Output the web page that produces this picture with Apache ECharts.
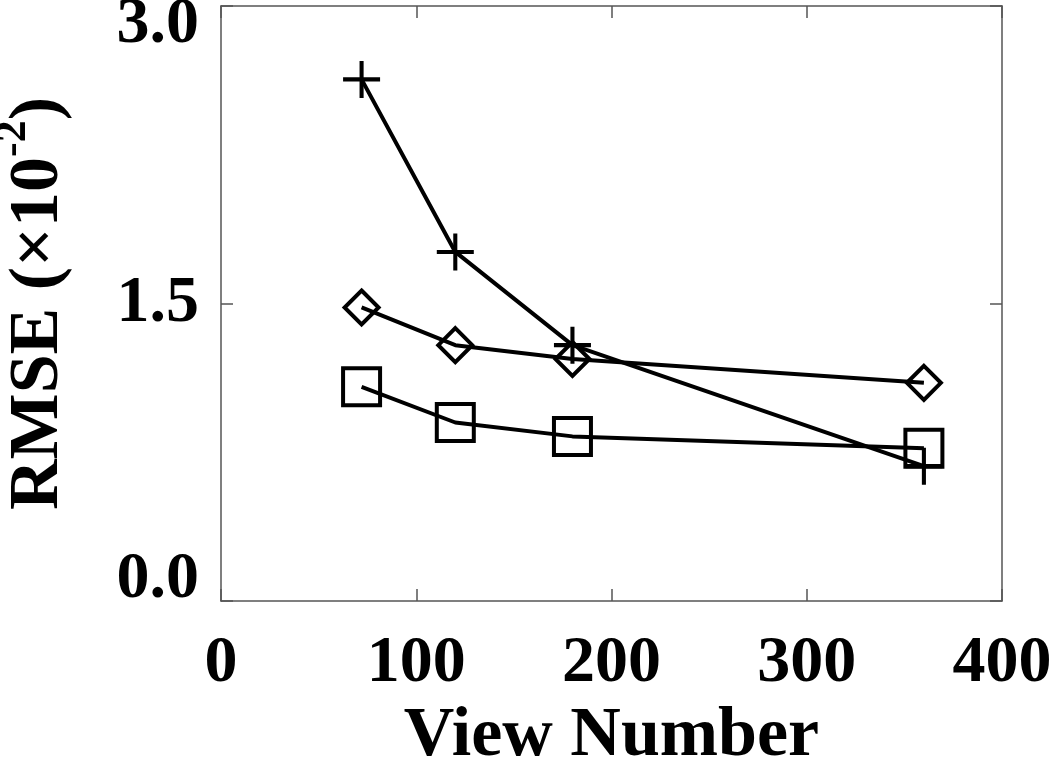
<!DOCTYPE html>
<html>
<head>
<meta charset="utf-8">
<script src="https://cdn.jsdelivr.net/npm/echarts@6/dist/echarts.min.js"></script>
<style>
  html, body { margin: 0; padding: 0; background: #fff; }
  #chart { width: 1050px; height: 765px; }
</style>
</head>
<body>
<div id="chart"></div>
<script>
// view numbers (x) and RMSE values in units of 1e-2
var views = [72, 120, 180, 360];
var plusVals = [2.63, 1.76, 1.29, 0.68];
var diamondVals = [1.48, 1.29, 1.22, 1.10];
var squareVals = [1.08, 0.90, 0.83, 0.77];

var FONT = '"Liberation Serif", "Times New Roman", serif';
var PLUS = 'path://M44.5,0 H55.5 V44.5 H100 V55.5 H55.5 V100 H44.5 V55.5 H0 V44.5 H44.5 Z';

function pairs(vals) {
  return views.map(function (v, i) { return [v, vals[i]]; });
}

var frame = { show: true, onZero: false, lineStyle: { color: '#555', width: 1.5 } };
var ticksIn = { show: true, inside: true, length: 12, lineStyle: { color: '#555', width: 1.5 } };

var chart = echarts.init(document.getElementById('chart'));

chart.setOption({
  backgroundColor: '#fff',
  animation: false,
  grid: { left: 221, right: 48, top: 6, bottom: 164, outerBoundsMode: 'none', containLabel: false },
  xAxis: [
    {
      type: 'value', min: 0, max: 400, interval: 100,
      name: 'View Number', nameLocation: 'middle', nameGap: 98,
      nameTextStyle: { fontFamily: FONT, fontWeight: 'bold', fontSize: 70, color: '#000' },
      axisLine: frame, axisTick: ticksIn, splitLine: { show: false },
      axisLabel: { fontFamily: FONT, fontWeight: 'bold', fontSize: 66, color: '#000', margin: 30 }
    },
    {
      type: 'value', min: 0, max: 400, interval: 100, position: 'top',
      axisLine: frame, axisTick: ticksIn, axisLabel: { show: false }, splitLine: { show: false }
    }
  ],
  yAxis: [
    {
      type: 'value', min: 0, max: 3, interval: 1.5,
      name: 'RMSE (×10{sup|-2})', nameLocation: 'middle', nameGap: 135,
      nameTextStyle: {
        fontFamily: FONT, fontWeight: 'bold', fontSize: 70, color: '#000',
        rich: {
          sup: { fontFamily: FONT, fontWeight: 'bold', fontSize: 44, color: '#000', padding: [0, 0, 50, 0] }
        }
      },
      axisLine: frame, axisTick: ticksIn, splitLine: { show: false },
      axisLabel: {
        margin: 22,
        formatter: function (v) {
          var s = v.toFixed(1);
          if (v === 3) return '{hi|' + s + '}';
          if (v === 0) return '{lo|' + s + '}';
          return '{n|' + s + '}';
        },
        rich: {
          n: { fontFamily: FONT, fontWeight: 'bold', fontSize: 66, color: '#000' },
          hi: { fontFamily: FONT, fontWeight: 'bold', fontSize: 66, color: '#000', padding: [38, 0, 0, 0] },
          lo: { fontFamily: FONT, fontWeight: 'bold', fontSize: 66, color: '#000', padding: [0, 0, 42, 0] }
        }
      }
    },
    {
      type: 'value', min: 0, max: 3, interval: 1.5, position: 'right',
      axisLine: frame, axisTick: ticksIn, axisLabel: { show: false }, splitLine: { show: false }
    }
  ],
  series: [
    {
      type: 'line', data: pairs(plusVals),
      symbol: PLUS, symbolSize: 37,
      lineStyle: { color: '#000', width: 4 },
      itemStyle: { color: '#000', borderWidth: 0 }
    },
    {
      type: 'line', data: pairs(diamondVals),
      symbol: 'diamond', symbolSize: 34,
      lineStyle: { color: '#000', width: 4 },
      itemStyle: { color: 'rgba(0,0,0,0)', borderColor: '#000', borderWidth: 4 }
    },
    {
      type: 'line', data: pairs(squareVals),
      symbol: 'rect', symbolSize: 37,
      lineStyle: { color: '#000', width: 4 },
      itemStyle: { color: 'rgba(0,0,0,0)', borderColor: '#000', borderWidth: 4 }
    }
  ]
});
</script>
</body>
</html>
